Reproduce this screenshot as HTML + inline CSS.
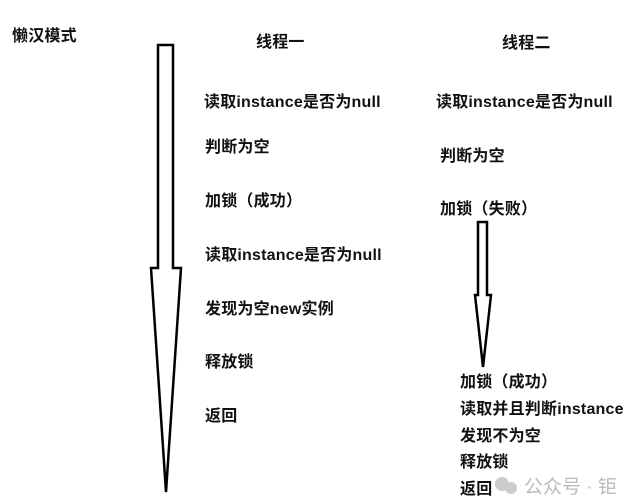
<!DOCTYPE html>
<html><head><meta charset="utf-8"><style>
body{margin:0;width:625px;height:502px;background:#fff;position:relative;overflow:hidden;font-family:"Liberation Sans","Noto Sans CJK SC",sans-serif;}
.t{position:absolute;font-size:16px;font-weight:bold;color:#111;white-space:nowrap;line-height:18px;letter-spacing:0.2px;}
</style></head><body>
<svg width="625" height="502" style="position:absolute;left:0;top:0">
<polygon points="158,45 173,45 173,268 181,268 166,492 151,268 158,268" fill="#fff" stroke="#000" stroke-width="2.5" stroke-linejoin="miter"/>
<polygon points="478,222 487,222 487,295 491,295 483,367 475,295 478,295" fill="#fff" stroke="#000" stroke-width="2.5"/>
<circle cx="502" cy="484" r="7" fill="#ccc"/><circle cx="511" cy="488" r="6" fill="#ccc"/>
</svg>
<div class="t" style="left:12px;top:28px">懒汉模式</div>
<div class="t" style="left:256px;top:34px">线程一</div>
<div class="t" style="left:502px;top:35px">线程二</div>
<div class="t" style="left:204px;top:94px">读取instance是否为null</div>
<div class="t" style="left:205px;top:139px">判断为空</div>
<div class="t" style="left:205px;top:193px">加锁（成功）</div>
<div class="t" style="left:205px;top:247px">读取instance是否为null</div>
<div class="t" style="left:205px;top:301px">发现为空new实例</div>
<div class="t" style="left:205px;top:354px">释放锁</div>
<div class="t" style="left:205px;top:408px">返回</div>
<div class="t" style="left:436px;top:94px">读取instance是否为null</div>
<div class="t" style="left:440px;top:148px">判断为空</div>
<div class="t" style="left:440px;top:201px">加锁（失败）</div>
<div class="t" style="left:460px;top:374px">加锁（成功）</div>
<div class="t" style="left:460px;top:401px">读取并且判断instance</div>
<div class="t" style="left:460px;top:428px">发现不为空</div>
<div class="t" style="left:460px;top:454px">释放锁</div>
<div class="t" style="left:460px;top:481px">返回</div>
<div style="position:absolute;left:524px;top:472px;font-size:19px;color:#bbb;white-space:nowrap;font-family:'Liberation Sans','Noto Sans CJK SC',sans-serif">公众号 · 钜</div>
</body></html>
